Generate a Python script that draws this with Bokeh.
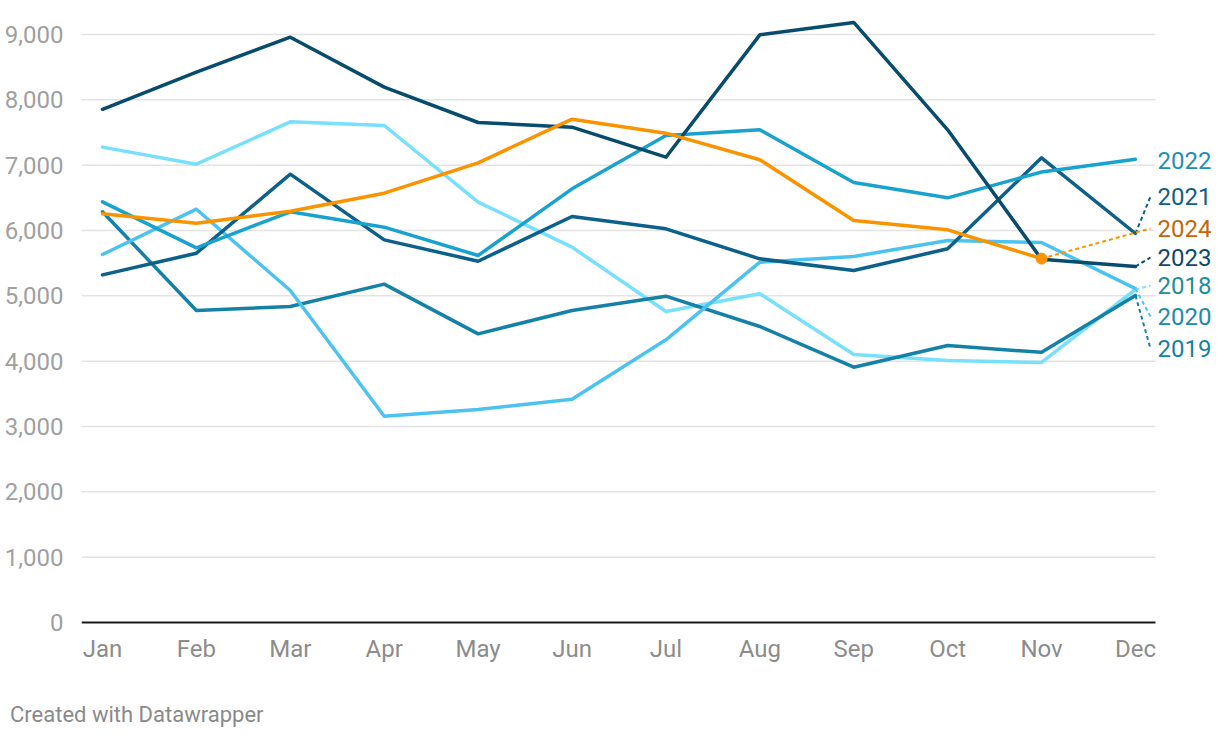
from bokeh.plotting import figure
from bokeh.models import Range1d, FixedTicker, NumeralTickFormatter, ColumnDataSource, Div
from bokeh.layouts import column
from bokeh.embed import file_html
from bokeh.resources import INLINE
from bokeh.core.properties import value

# ---------------- data ----------------
months = ["Jan", "Feb", "Mar", "Apr", "May", "Jun", "Jul", "Aug", "Sep", "Oct", "Nov", "Dec"]
y2018 = [7276, 7015, 7663, 7607, 6434, 5745, 4760, 5031, 4102, 4010, 3980, 5097]
y2019 = [6286, 4776, 4837, 5179, 4418, 4776, 4995, 4531, 3908, 4240, 4135, 5005]
y2020 = [5633, 6326, 5082, 3158, 3260, 3418, 4327, 5515, 5602, 5847, 5816, 5110]
y2021 = [5321, 5653, 6862, 5857, 5530, 6214, 6026, 5566, 5388, 5720, 7112, 5954]
y2022 = [6439, 5735, 6286, 6051, 5617, 6638, 7454, 7541, 6735, 6500, 6895, 7090]
y2023 = [7855, 8423, 8959, 8194, 7653, 7582, 7122, 8995, 9184, 7541, 5560, 5449]
y2024 = [6255, 6112, 6296, 6571, 7036, 7704, 7490, 7082, 6153, 6010, 5570]
years = ["2018", "2019", "2020", "2021", "2022", "2023", "2024"]
y_ticks = [0, 1000, 2000, 3000, 4000, 5000, 6000, 7000, 8000, 9000]

series = dict(zip(years, [y2018, y2019, y2020, y2021, y2022, y2023, y2024]))

# ---------------- styles / layout ----------------
line_colors = {"2018": "#78e0fb", "2019": "#1581a6", "2020": "#4cc3ef", "2021": "#0c6089",
               "2022": "#1aa2cf", "2023": "#074b6d", "2024": "#fa9300"}
label_colors = {"2018": "#1a8e9f", "2019": "#157fa6", "2020": "#1b8aad", "2021": "#0f5f87",
                "2022": "#1d8fb6", "2023": "#0c4a6c", "2024": "#c2680a"}
# label vertical positions (layout, in value units)
label_pos = {"2022": 7071, "2021": 6520, "2024": 6031, "2023": 5587,
             "2018": 5158, "2020": 4684, "2019": 4194}
label_x = 11.234
leader_x = 11.16
grid_x0, grid_x1 = -0.2236, 11.213
FONT = "Roboto"
FS = "24px"

p = figure(width=1216, height=696, output_backend="svg", toolbar_location=None,
           x_range=Range1d(-0.2236, 11.863), y_range=Range1d(-61, 9306),
           min_border_left=81, min_border_right=0, min_border_top=14, min_border_bottom=70)
p.outline_line_color = None
p.background_fill_color = "white"
p.border_fill_color = "white"
p.xgrid.visible = False
p.ygrid.visible = False

# gridlines
gy = [t for t in y_ticks if t > 0]
p.segment(x0=[grid_x0] * len(gy), x1=[grid_x1] * len(gy), y0=gy, y1=gy,
          line_color="#e3e3e3", line_width=1.5)
# zero baseline
p.segment(x0=[grid_x0], x1=[grid_x1], y0=[0], y1=[0], line_color="#1a1a1a", line_width=2.2)

# axes
p.yaxis.ticker = FixedTicker(ticks=y_ticks)
p.yaxis.formatter = NumeralTickFormatter(format="0,0")
p.yaxis.axis_line_color = None
p.yaxis.major_tick_line_color = None
p.yaxis.minor_tick_line_color = None
p.yaxis.major_label_standoff = 12
p.yaxis.major_label_text_font = FONT
p.yaxis.major_label_text_font_size = FS
p.yaxis.major_label_text_color = "#a0a0a0"

p.xaxis.ticker = FixedTicker(ticks=list(range(12)))
p.xaxis.major_label_overrides = {i: m for i, m in enumerate(months)}
p.xaxis.axis_line_color = None
p.xaxis.major_tick_line_color = None
p.xaxis.minor_tick_line_color = None
p.xaxis.major_label_standoff = 2
p.xaxis.major_label_text_font = FONT
p.xaxis.major_label_text_font_size = FS
p.xaxis.major_label_text_color = "#8c8c8c"

# lines
for yr in years:
    vals = series[yr]
    xs = list(range(len(vals)))
    p.line(xs, vals, line_color=line_colors[yr], line_width=3.5,
           line_join="round", line_cap="round")

# 2024 end dot
p.scatter([len(y2024) - 1], [y2024[-1]], size=11, color=line_colors["2024"])

# leaders
for yr in years:
    if yr == "2022":
        continue
    vals = series[yr]
    x0 = len(vals) - 1
    p.line([x0, leader_x], [vals[-1], label_pos[yr]], line_color=line_colors[yr],
           line_width=2, line_dash="4 3")

# labels
src = ColumnDataSource(dict(x=[label_x] * len(years), y=[label_pos[y] for y in years],
                            t=years, c=[label_colors[y] for y in years]))
p.text(x="x", y="y", text="t", text_color="c", source=src, text_font=value(FONT),
       text_font_size=FS, text_baseline="middle", text_align="left")

footer = Div(text="Created with Datawrapper", width=1200, height=38, margin=(0, 0, 0, 10),
             styles={"font-family": "Roboto", "font-size": "22px", "color": "#8a8a8a",
                     "line-height": "38px", "white-space": "nowrap"})

layout = column(p, footer, spacing=0)
open("out.html", "w").write(file_html(layout, INLINE))
